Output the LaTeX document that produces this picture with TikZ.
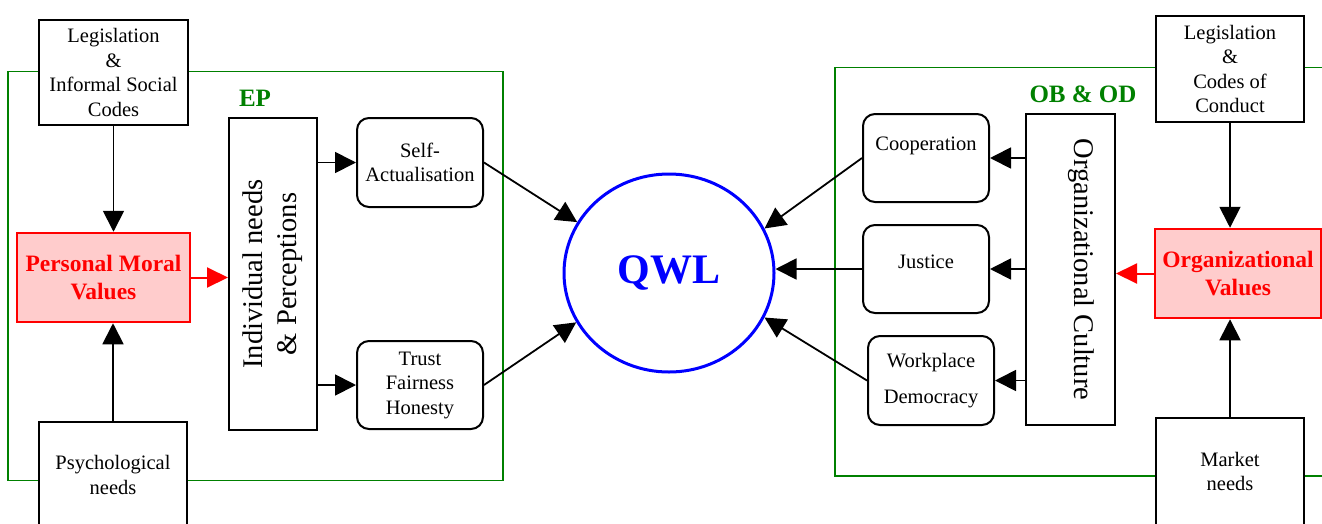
\documentclass[tikz,border=0pt]{standalone}
\usepackage{fontspec}
\setmainfont{Liberation Serif}
\usetikzlibrary{arrows.meta,shapes.geometric}
\definecolor{frameg}{RGB}{0,128,0}
\definecolor{pinkf}{RGB}{255,204,204}
\begin{document}
\begin{tikzpicture}[x=1pt,y=-1pt,
  box/.style={draw=black,line width=2pt,fill=white,inner sep=0pt,align=center,font=\fontsize{20.5}{24.5}\selectfont},
  rbox/.style={box,rounded corners=12pt},
  valbox/.style={draw=red,line width=2.5pt,fill=pinkf,inner sep=0pt,align=center,text=red,font=\fontsize{23.5}{28}\selectfont\bfseries},
  tallbox/.style={draw=black,line width=2pt,fill=white,inner sep=0pt,align=center,font=\fontsize{28.5}{34}\selectfont},
  arr/.style={line width=1.8pt,-{Triangle[length=21pt,width=21pt]}},
  redarr/.style={draw=red,line width=2pt,-{Triangle[length=21pt,width=20pt]},red},
  frame/.style={draw=frameg,line width=1.6pt},
  ttl/.style={text=frameg,inner sep=0pt,font=\fontsize{25}{30}\selectfont\bfseries},
  qwlstyle/.style={ellipse,draw=blue,line width=3pt,fill=white,inner sep=0pt,text=blue,font=\fontsize{42}{50}\selectfont\bfseries}
]
\path[use as bounding box] (0,0) rectangle (1322,523);
\clip (0,0) rectangle (1322,523);

% green frames
\draw[frame] (8,71.5) rectangle (503,480.5);
\draw[frame] (835,67.5) rectangle (1340,476);
\node[ttl] (ep) at (255,98) {EP};
\node[ttl] (obod) at (1083,94.5) {OB \& OD};

% left side
\node[box, minimum width=149, minimum height=105] (leg1) at (113.5,72.5) {Legislation\\\&\\Informal Social\\Codes};
\node[valbox, minimum width=173, minimum height=89] (pmv) at (103.5,277.5) {Personal Moral\\Values};
\node[box, minimum width=148, minimum height=106] (psy) at (113,475) {Psychological\\needs};
\node[tallbox, minimum width=88, minimum height=312] (ind) at (273,274) {\rotatebox{90}{\begin{tabular}{@{}c@{}}Individual needs\\\& Perceptions\end{tabular}}};
\node[rbox, minimum width=126, minimum height=89] (sa) at (420,162.5) {Self-\\Actualisation};
\node[rbox, minimum width=126, minimum height=88] (tfh) at (420,385) {Trust\\Fairness\\Honesty};

% centre
\node[qwlstyle, minimum width=210, minimum height=198] (qwl) at (669,273) {QWL};

% right side
\node[box, minimum width=148, minimum height=106] (leg2) at (1230,69) {Legislation\\\&\\Codes of\\Conduct};
\node[valbox, minimum width=166, minimum height=89] (ov) at (1238,273.5) {Organizational\\Values};
\node[box, minimum width=148, minimum height=107] (mkt) at (1230,471.5) {Market\\needs};
\node[tallbox, minimum width=89, minimum height=311] (oc) at (1070.5,269.5) {\rotatebox{-90}{\raisebox{11pt}[\height][\depth]{Organizational Culture}}};
\node[rbox, minimum width=126, minimum height=88] (coop) at (926,158) {\raisebox{12pt}[\height][\depth]{Cooperation}};
\node[rbox, minimum width=126, minimum height=88] (just) at (926,269) {\raisebox{7pt}[\height][\depth]{Justice}};
\node[rbox, minimum width=126, minimum height=89] (wd) at (931,380.5) {Workplace\\[11.5pt]Democracy};

% connectors left
\draw[arr] (leg1.south) -- (leg1.south |- pmv.north);
\draw[arr] (psy.north) -- (psy.north |- pmv.south);
\draw[redarr] (pmv.east) -- (pmv.east -| ind.west);
\draw[arr] (ind.east |- sa.west) -- (sa.west);
\draw[arr] (ind.east |- tfh.west) -- (tfh.west);
\draw[arr] (sa.east) -- (qwl.151);
\draw[arr] (tfh.east) -- (qwl.208);

% connectors right
\draw[arr] (leg2.south) -- (leg2.south |- ov.north);
\draw[arr] (mkt.north) -- (mkt.north |- ov.south);
\draw[redarr] (ov.west) -- (ov.west -| oc.east);
\draw[arr] (oc.west |- coop.east) -- (coop.east);
\draw[arr] (oc.west |- just.east) -- (just.east);
\draw[arr] (oc.west |- wd.east) -- (wd.east);
\draw[arr] (coop.west) -- (qwl.25);
\draw[arr] (just.west) -- (just.west -| qwl.east);
\draw[arr] (wd.west) -- (qwl.335);
\end{tikzpicture}
\end{document}
